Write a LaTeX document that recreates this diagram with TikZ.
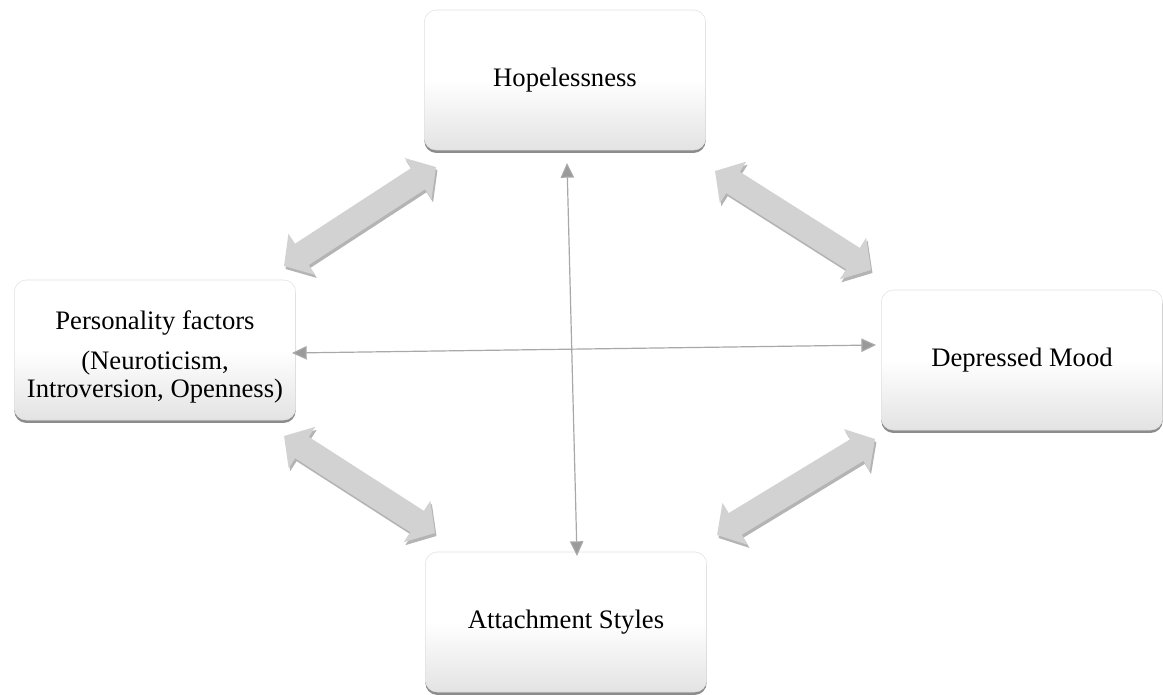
\documentclass[tikz,border=0pt]{standalone}
\usepackage{fontspec}
\setmainfont{Liberation Serif}
\usetikzlibrary{arrows.meta,shadows}
\definecolor{fatgray}{HTML}{D2D2D2}
\definecolor{fatshade}{HTML}{B4B4B4}
\definecolor{thingray}{HTML}{A8A8A8}
\definecolor{tipgray}{HTML}{9A9A9A}
\begin{document}
\begin{tikzpicture}[x=0.75pt,y=-0.75pt,
  box/.style={rounded corners=9pt, minimum width=211pt, minimum height=105pt,
    top color=white, bottom color=black!11, middle color=white,
    draw=black!12, line width=0.4pt,
    drop shadow={shadow xshift=0pt, shadow yshift=-2.2pt, fill=black, opacity=0.45},
    align=center, font=\fontsize{20}{21}\selectfont},
  fat/.style={line width=19pt, draw=fatgray,
    {Triangle[length=16pt,width=36pt]}-{Triangle[length=16pt,width=36pt]}},
  fatshadow/.style={line width=19pt, draw=fatshade,
    {Triangle[length=16pt,width=36pt]}-{Triangle[length=16pt,width=36pt]}},
  thin/.style={line width=0.9pt, draw=thingray,
    {Triangle[length=11pt,width=10pt,fill=tipgray]}-{Triangle[length=11pt,width=10pt,fill=tipgray]}}
]
\useasboundingbox (0,0) rectangle (1163,695);

% thick arrow end points
\coordinate (tl1) at (284,266);
\coordinate (tl2) at (436,167);
\coordinate (tr1) at (715,171);
\coordinate (tr2) at (871,270);
\coordinate (bl1) at (284,436);
\coordinate (bl2) at (435,533);
\coordinate (br1) at (875,439);
\coordinate (br2) at (717,535);

\foreach \a/\b in {tl1/tl2,tr1/tr2,bl1/bl2,br1/br2}{
  \draw[fatshadow] ([shift={(1.5,3)}]\a) -- ([shift={(1.5,3)}]\b);
}
\foreach \a/\b in {tl1/tl2,tr1/tr2,bl1/bl2,br1/br2}{
  \draw[fat] (\a) -- (\b);
}

% boxes
\node[box] (hope) at (565,80) {Hopelessness};
\node[box] (pers) at (155,350) {};
\node[align=center, font=\fontsize{20}{21}\selectfont] (perstext) at ([yshift=-5pt]pers.center)
  {Personality factors\\[9pt](Neuroticism,\\Introversion, Openness)};
\node[box] (dep) at (1022,360) {Depressed Mood};
\node[box] (att) at (566,622) {Attachment Styles};

% thin arrows
\coordinate (v1) at (567,163);
\coordinate (v2) at (577,556);
\coordinate (h1) at (292,353);
\coordinate (h2) at (876,345);
\draw[thin] (v1) -- (v2);
\draw[thin] (h1) -- (h2);
\end{tikzpicture}
\end{document}
